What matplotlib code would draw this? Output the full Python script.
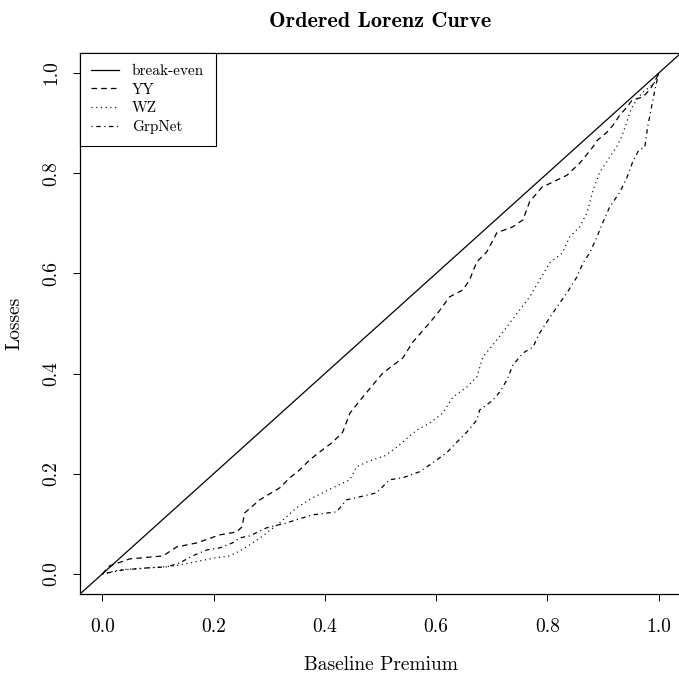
import matplotlib
matplotlib.use('Agg')
import matplotlib.pyplot as plt

# ordered Lorenz curve data
yy_x = [0, 0.013, 0.049, 0.109, 0.134, 0.170, 0.211, 0.242, 0.251, 0.256, 0.283, 0.319,
        0.337, 0.355, 0.373, 0.396, 0.414, 0.432, 0.445, 0.468, 0.504, 0.540, 0.558, 0.588,
        0.603, 0.624, 0.648, 0.660, 0.673, 0.691, 0.709, 0.738, 0.756, 0.768, 0.790, 0.809,
        0.835, 0.858, 0.880, 0.890, 0.907, 0.918, 0.930, 0.943, 0.952, 0.971, 0.980, 0.987,
        0.996, 1.0]
yy_y = [0, 0.016, 0.030, 0.036, 0.054, 0.062, 0.078, 0.084, 0.094, 0.122, 0.148, 0.172,
        0.192, 0.208, 0.228, 0.248, 0.263, 0.283, 0.321, 0.353, 0.401, 0.431, 0.463, 0.501,
        0.521, 0.553, 0.567, 0.587, 0.623, 0.643, 0.681, 0.693, 0.707, 0.743, 0.772, 0.782,
        0.796, 0.820, 0.850, 0.866, 0.882, 0.896, 0.916, 0.932, 0.946, 0.952, 0.962, 0.972,
        0.990, 1.0]

wz_x = [0, 0.031, 0.080, 0.130, 0.166, 0.202, 0.229, 0.247, 0.265, 0.286, 0.319, 0.349,
        0.378, 0.414, 0.445, 0.457, 0.481, 0.508, 0.529, 0.565, 0.588, 0.612, 0.630, 0.655,
        0.673, 0.684, 0.709, 0.727, 0.750, 0.768, 0.786, 0.804, 0.827, 0.840, 0.858, 0.871,
        0.882, 0.894, 0.912, 0.924, 0.933, 0.942, 0.951, 0.960, 0.971, 0.984, 0.993, 1.0]
wz_y = [0, 0.008, 0.012, 0.016, 0.024, 0.032, 0.036, 0.046, 0.058, 0.074, 0.102, 0.132,
        0.152, 0.172, 0.188, 0.214, 0.226, 0.236, 0.253, 0.287, 0.301, 0.321, 0.353, 0.373,
        0.393, 0.433, 0.467, 0.493, 0.527, 0.553, 0.587, 0.621, 0.641, 0.673, 0.693, 0.721,
        0.766, 0.802, 0.832, 0.852, 0.872, 0.900, 0.930, 0.946, 0.962, 0.972, 0.982, 1.0]

grp_x = [0, 0.037, 0.080, 0.116, 0.139, 0.162, 0.188, 0.211, 0.234, 0.247, 0.265, 0.295,
         0.331, 0.378, 0.421, 0.439, 0.463, 0.493, 0.516, 0.540, 0.570, 0.594, 0.619, 0.637,
         0.655, 0.673, 0.678, 0.702, 0.714, 0.727, 0.738, 0.756, 0.774, 0.786, 0.799, 0.817,
         0.835, 0.853, 0.864, 0.876, 0.889, 0.900, 0.912, 0.930, 0.943, 0.953, 0.964, 0.975,
         0.980, 0.987, 0.993, 1.0]
grp_y = [0, 0.008, 0.012, 0.014, 0.022, 0.036, 0.048, 0.052, 0.062, 0.072, 0.076, 0.092,
         0.102, 0.118, 0.124, 0.148, 0.154, 0.162, 0.188, 0.192, 0.204, 0.222, 0.242, 0.263,
         0.283, 0.307, 0.327, 0.347, 0.363, 0.387, 0.417, 0.441, 0.453, 0.481, 0.503, 0.533,
         0.561, 0.593, 0.621, 0.641, 0.673, 0.703, 0.733, 0.762, 0.792, 0.822, 0.846, 0.852,
         0.892, 0.932, 0.966, 1.0]

ticks = [0.0, 0.2, 0.4, 0.6, 0.8, 1.0]
tick_labels = ['0.0', '0.2', '0.4', '0.6', '0.8', '1.0']

plt.rcParams['font.family'] = 'cmr10'
plt.rcParams['axes.formatter.use_mathtext'] = True
plt.rcParams['lines.scale_dashes'] = False

fig = plt.figure(figsize=(6.79, 6.79), dpi=100)
ax = fig.add_axes([80 / 679, 85 / 679, 601 / 679, 541 / 679])

lw = 0.9
ax.axline((0, 0), (1, 1), color='black', lw=lw, label='break-even')
ax.plot(yy_x, yy_y, color='black', lw=lw, linestyle=(0, (4, 3)), label='YY')
ax.plot(wz_x, wz_y, color='black', lw=lw, linestyle=(0, (0.8, 2.6)), label='WZ')
ax.plot(grp_x, grp_y, color='black', lw=lw, linestyle=(0, (0.8, 2.6, 3.2, 2.6)), label='GrpNet')

ax.set_xlim(-0.04, 1.04)
ax.set_ylim(-0.04, 1.04)
ax.set_xticks(ticks)
ax.set_xticklabels(tick_labels)
ax.set_yticks(ticks)
ax.set_yticklabels(tick_labels, rotation=90, va='center')
ax.tick_params(axis='both', direction='out', length=5, width=0.7, labelsize=14, color='black')
ax.tick_params(axis='x', pad=12)
ax.tick_params(axis='y', pad=9)
for s in ax.spines.values():
    s.set_linewidth(0.9)

ax.set_xlabel('Baseline Premium', fontsize=14, labelpad=15)
ax.set_ylabel('Losses', fontsize=14, labelpad=14)
ax.set_title('Ordered Lorenz Curve', fontsize=16, fontfamily='cmb10', pad=19)

leg = ax.legend(loc='upper left', borderaxespad=0, fancybox=False, edgecolor='black',
                framealpha=1, fontsize=11, handlelength=1.8, handletextpad=0.85,
                labelspacing=0.32, borderpad=0.75)
leg.get_frame().set_linewidth(0.8)

fig.savefig('out.png', dpi=100)
